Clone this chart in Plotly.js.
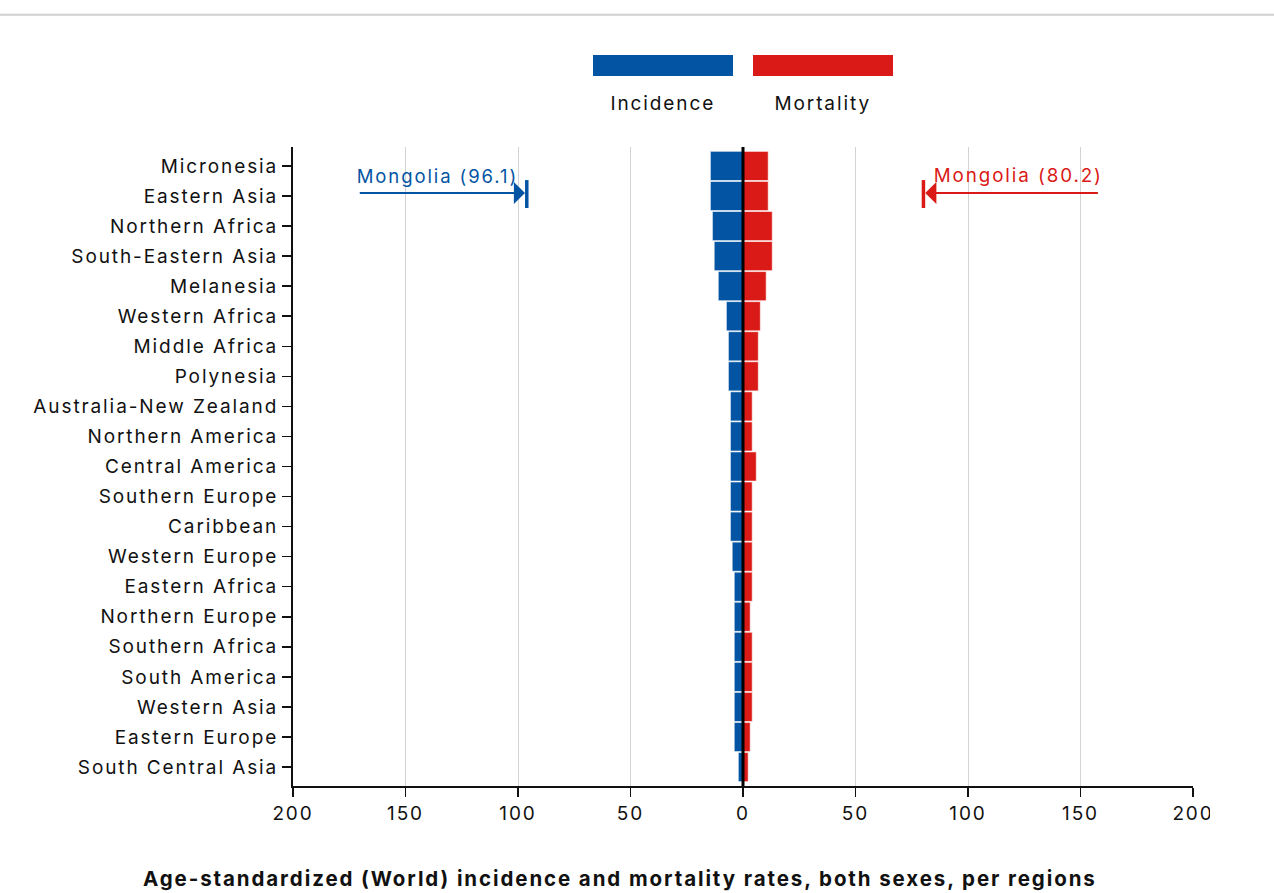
<!DOCTYPE html>
<html>
<head>
<meta charset="utf-8">
<script src="https://cdn.plot.ly/plotly-3.0.1.min.js"></script>
<style>
html,body{margin:0;padding:0;background:#fff;}
#chart{width:1274px;height:893px;}
#chart svg text{letter-spacing:1.9px;}
</style>
</head>
<body>
<div id="chart"></div>
<script>
const regions = ["Micronesia","Eastern Asia","Northern Africa","South-Eastern Asia","Melanesia","Western Africa","Middle Africa","Polynesia","Australia-New Zealand","Northern America","Central America","Southern Europe","Caribbean","Western Europe","Eastern Africa","Northern Europe","Southern Africa","South America","Western Asia","Eastern Europe","South Central Asia"];
const incidence = [14.5,14.5,13.6,12.8,11.0,7.4,6.5,6.5,5.6,5.6,5.6,5.6,5.6,4.8,3.9,3.9,3.9,3.9,3.9,3.9,2.1];
const mortality = [11.2,11.2,13.0,13.0,10.3,7.7,6.8,6.8,4.1,4.1,5.9,4.1,4.1,4.1,4.1,3.2,4.1,4.1,4.1,3.2,2.3];
const tickValues = [-200,-150,-100,-50,0,50,100,150,200];
const tickLabels = ["200","150","100","50","0","50","100","150","200"];
const mongoliaIncidence = 96.1;
const mongoliaMortality = 80.2;

const BLUE = "#0355a3";
const RED = "#da1a17";
const FONT = "Inter, 'Noto Sans', sans-serif";

const traces = [
  {type:"bar", orientation:"h", name:"Incidence", y:regions, x:incidence.map(v=>-v),
   marker:{color:BLUE, line:{color:"rgba(255,255,255,0.6)", width:1}}, hoverinfo:"skip"},
  {type:"bar", orientation:"h", name:"Mortality", y:regions, x:mortality,
   marker:{color:RED, line:{color:"rgba(255,255,255,0.6)", width:1}}, hoverinfo:"skip"}
];

const layout = {
  width:1274, height:893,
  margin:{l:293, r:81, t:147, b:107},
  paper_bgcolor:"#fff", plot_bgcolor:"#fff",
  showlegend:false,
  barmode:"relative",
  bargap:0.03,
  font:{family:FONT, size:19, color:"#111"},
  xaxis:{range:[-200,200], tickvals:tickValues, ticktext:tickLabels,
    showgrid:true, gridcolor:"#d3d3d3", gridwidth:1, zeroline:false,
    showline:true, linecolor:"#111", linewidth:2, ticks:"outside", ticklen:9, tickwidth:1.5, tickcolor:"#111",
    tickfont:{size:19, family:FONT, color:"#111"}, fixedrange:true},
  yaxis:{type:"category", autorange:false, range:[20.63,-0.63], showgrid:false, zeroline:false,
    showline:true, linecolor:"#111", linewidth:2, ticks:"outside", ticklen:9, tickwidth:1.5, tickcolor:"#111",
    tickfont:{size:19, family:FONT, color:"#111"}, fixedrange:true},
  shapes:[
    {type:"line", xref:"x", yref:"paper", x0:0, x1:0, y0:0, y1:1, line:{color:"#000", width:3}, layer:"above"},
    {type:"line", xref:"paper", yref:"paper", x0:-0.4, x1:1.2, y0:1.207, y1:1.207, line:{color:"#d0d0d0", width:2}},
    {type:"rect", xref:"paper", yref:"paper", x0:(593-293)/900, x1:(733-293)/900, y0:(786-76)/639, y1:(786-55)/639, fillcolor:BLUE, line:{width:0}},
    {type:"rect", xref:"paper", yref:"paper", x0:(753-293)/900, x1:(893-293)/900, y0:(786-76)/639, y1:(786-55)/639, fillcolor:RED, line:{width:0}},
    {type:"line", xref:"x", yref:"y", x0:-mongoliaIncidence, x1:-mongoliaIncidence, y0:0.47, y1:1.4, line:{color:BLUE, width:3.5}},
    {type:"line", xref:"x", yref:"y", x0:mongoliaMortality, x1:mongoliaMortality, y0:0.47, y1:1.4, line:{color:RED, width:3.5}},
    {type:"rect", xref:"paper", yref:"paper", x0:(1210-293)/900, x1:1.1, y0:-(830-786)/639, y1:-(797-786)/639, fillcolor:"#fff", line:{width:0}, layer:"above"}
  ],
  annotations:[
    {xref:"x", yref:"y", x:-mongoliaIncidence-0.8, y:0.9, ax:-171, ay:0.9, axref:"x", ayref:"y",
     text:"", showarrow:true, arrowhead:1, arrowsize:1.85, arrowwidth:2, arrowcolor:BLUE, standoff:0},
    {xref:"x", yref:"y", x:mongoliaMortality+0.8, y:0.9, ax:158.4, ay:0.9, axref:"x", ayref:"y",
     text:"", showarrow:true, arrowhead:1, arrowsize:1.85, arrowwidth:2, arrowcolor:RED, standoff:0},
    {xref:"x", yref:"y", x:-170.5, y:0.33, xanchor:"left", yanchor:"middle", showarrow:false, xshift:10,
     text:"Mongolia (" + mongoliaIncidence + ")", font:{size:18.5, color:BLUE, family:FONT}},
    {xref:"x", yref:"y", x:159, y:0.33, xanchor:"right", yanchor:"middle", showarrow:false, xshift:-10,
     text:"Mongolia (" + mongoliaMortality + ")", font:{size:18.8, color:RED, family:FONT}},
    {xref:"paper", yref:"paper", x:(663-293)/900, y:(786-104)/639, showarrow:false, xanchor:"center", yanchor:"middle",
     text:"Incidence", font:{size:19, color:"#111", family:FONT}},
    {xref:"paper", yref:"paper", x:(823-293)/900, y:(786-104)/639, showarrow:false, xanchor:"center", yanchor:"middle",
     text:"Mortality", font:{size:19, color:"#111", family:FONT}},
    {xref:"paper", yref:"paper", x:(620-293)/900, y:-(878-786)/639, showarrow:false, xanchor:"center", yanchor:"middle",
     text:"<b>Age-standardized (World) incidence and mortality rates, both sexes, per regions</b>", font:{size:20.5, color:"#111", family:FONT}}
  ]
};

Plotly.newPlot("chart", traces, layout, {displayModeBar:false, staticPlot:true});
</script>
</body>
</html>
